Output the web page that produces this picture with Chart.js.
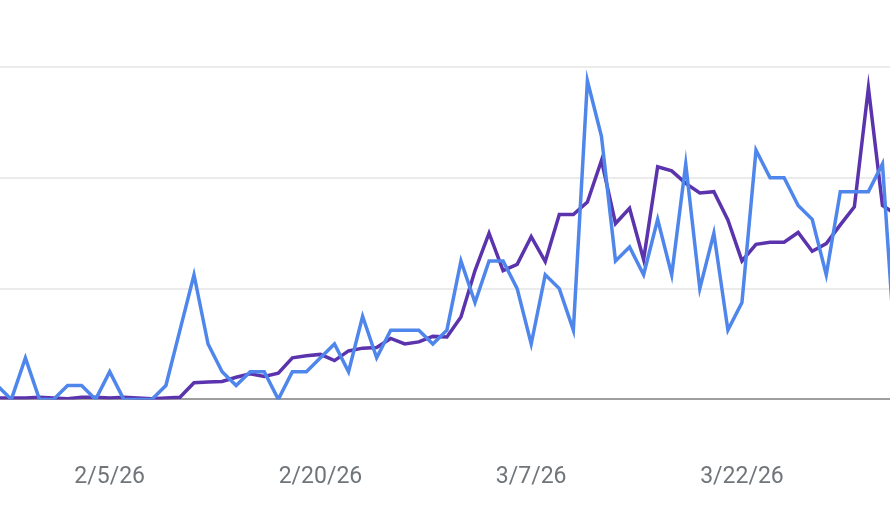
<!DOCTYPE html>
<html>
<head>
<meta charset="utf-8">
<script src="https://cdn.jsdelivr.net/npm/chart.js@4.4.1/dist/chart.umd.min.js"></script>
<style>
  html, body { margin: 0; padding: 0; background: #ffffff; }
  #wrap { width: 890px; height: 530px; }
</style>
</head>
<body>
<div id="wrap"><canvas id="grafico" width="890" height="530"></canvas></div>
<script>
// Días (uno por punto)
const dias = [
    '1/28/26', '1/29/26', '1/30/26', '1/31/26', '2/1/26', '2/2/26', '2/3/26', '2/4/26',
    '2/5/26', '2/6/26', '2/7/26', '2/8/26', '2/9/26', '2/10/26', '2/11/26', '2/12/26',
    '2/13/26', '2/14/26', '2/15/26', '2/16/26', '2/17/26', '2/18/26', '2/19/26', '2/20/26',
    '2/21/26', '2/22/26', '2/23/26', '2/24/26', '2/25/26', '2/26/26', '2/27/26', '2/28/26',
    '3/1/26', '3/2/26', '3/3/26', '3/4/26', '3/5/26', '3/6/26', '3/7/26', '3/8/26',
    '3/9/26', '3/10/26', '3/11/26', '3/12/26', '3/13/26', '3/14/26', '3/15/26', '3/16/26',
    '3/17/26', '3/18/26', '3/19/26', '3/20/26', '3/21/26', '3/22/26', '3/23/26', '3/24/26',
    '3/25/26', '3/26/26', '3/27/26', '3/28/26', '3/29/26', '3/30/26', '3/31/26', '4/1/26',
    '4/2/26'
];

// Serie azul (diaria)
const serieAzul = [
    1, 0, 3, 0, 0, 1, 1, 0,
    2, 0, 0, 0, 1, 5, 9, 4,
    2, 1, 2, 2, 0, 2, 2, 3,
    4, 2, 6, 3, 5, 5, 5, 4,
    5, 10, 7, 10, 10, 8, 4, 9,
    8, 5, 23, 19, 10, 11, 9, 13,
    9, 17, 8, 12, 5, 7, 18, 16,
    16, 14, 13, 9, 15, 15, 15, 17,
    2
];

// Serie morada (suavizada)
const serieMorada = [
    0.1, 0.1, 0.1, 0.15, 0.1, 0.05, 0.15, 0.15,
    0.1, 0.15, 0.1, 0.05, 0.1, 0.15, 1.2, 1.25,
    1.3, 1.6, 1.85, 1.65, 1.9, 3.0, 3.15, 3.25,
    2.8, 3.5, 3.7, 3.75, 4.4, 4.0, 4.15, 4.55,
    4.5, 5.95, 9.3, 12.0, 9.3, 9.75, 11.75, 9.95,
    13.35, 13.35, 14.25, 17.25, 12.7, 13.8, 10.1, 16.8,
    16.5, 15.6, 14.9, 15.0, 12.95, 10.0, 11.2, 11.35,
    11.35, 12.05, 10.7, 11.25, 12.6, 13.9, 22.5, 14.0,
    13.35
];

// Etiquetas del eje X
const etiquetasX = ['2/5/26', '2/20/26', '3/7/26', '3/22/26'];

// Ticks del eje Y (líneas de la rejilla)
const ticksY = [0, 8, 16, 24];

const colorAzul = '#4f86ec';
const colorMorado = '#5b33ad';

function aPuntos(valores) {
    return valores.map(function (v, i) { return { x: i, y: v }; });
}

const ctx = document.getElementById('grafico').getContext('2d');
const grafico = new Chart(ctx, {
    type: 'line',
    data: {
        datasets: [
            {
                label: 'Azul',
                data: aPuntos(serieAzul),
                borderColor: colorAzul,
                borderWidth: 3.5,
                pointRadius: 0,
                tension: 0,
                fill: false
            },
            {
                label: 'Morado',
                data: aPuntos(serieMorada),
                borderColor: colorMorado,
                borderWidth: 3.5,
                pointRadius: 0,
                tension: 0,
                fill: false
            }
        ]
    },
    options: {
        responsive: false,
        animation: false,
        layout: {
            padding: { top: 67, bottom: -25, left: 0, right: 0 }
        },
        plugins: {
            legend: { display: false },
            tooltip: { enabled: false }
        },
        scales: {
            x: {
                type: 'linear',
                min: 0.192,
                max: 63.537,
                grid: { display: false, drawTicks: false },
                border: { display: false },
                afterBuildTicks: function (scale) {
                    scale.ticks = etiquetasX.map(function (e) {
                        return { value: dias.indexOf(e) };
                    });
                },
                ticks: {
                    padding: 64,
                    maxRotation: 0,
                    autoSkip: false,
                    color: '#70757a',
                    font: { family: 'Roboto', size: 23 },
                    callback: function (value) { return dias[value]; }
                }
            },
            y: {
                min: 0,
                max: 24,
                afterBuildTicks: function (scale) {
                    scale.ticks = ticksY.map(function (v) { return { value: v }; });
                },
                grid: {
                    drawTicks: false,
                    lineWidth: 2,
                    color: function (c) {
                        return c.tick && c.tick.value === 0 ? '#9e9e9e' : '#ebebeb';
                    }
                },
                border: { display: false },
                ticks: { display: false }
            }
        }
    }
});
</script>
</body>
</html>
